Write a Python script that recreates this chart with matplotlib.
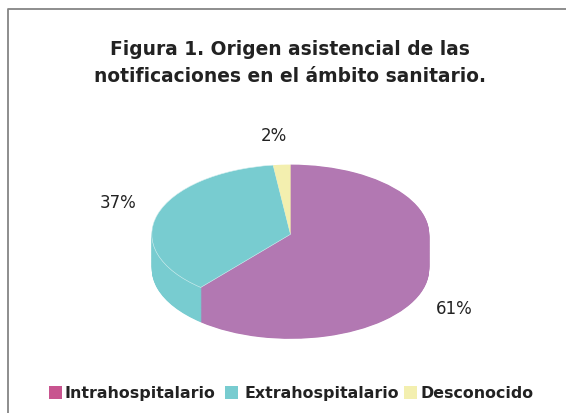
import matplotlib.pyplot as plt
from matplotlib.patches import Rectangle

title = "Figura 1. Origen asistencial de las\nnotificaciones en el ámbito sanitario."
labels = ["Intrahospitalario", "Extrahospitalario", "Desconocido"]
values = [61.2, 36.8, 2]
pct_labels = ["61%", "37%", "2%"]
slice_colors = ["#B278B2", "#78CCD0", "#F3EFAF"]
legend_colors = ["#C8548F", "#78CCD0", "#F3EFAF"]

W, H = 566, 414
fig = plt.figure(figsize=(W / 100, H / 100), dpi=100)


def px(x, y):
    # reference pixels to figure fraction
    return x / W, 1 - y / H


# pie body, axes spans exactly the top ellipse: x 152-429, y 165-305
depth = 0.5
ax = fig.add_axes([151.8 / W, 1 - 305 / H, 277.4 / W, 139.4 / H])
ax.set_facecolor("none")
layers = 60
for i in range(layers, 0, -1):
    ax.pie(values, colors=slice_colors, startangle=90, counterclock=False,
           center=(0, -depth * i / layers), radius=1)
top, _ = ax.pie(values, colors=slice_colors, startangle=90, counterclock=False, radius=1)
# faint seam round the teal slice only
top[1].set_edgecolor("#d8f0f0")
top[1].set_linewidth(0.4)
ax.set_aspect("auto")
ax.set_xlim(-1, 1)
ax.set_ylim(-1, 1)
for p in ax.patches:
    p.set_clip_on(False)

# chart border: only the top and left sides show
fig.add_artist(plt.Line2D([7.5 / W, 7.5 / W, 1], [0, 1 - 9.5 / H, 1 - 9.5 / H],
                          color="#858585", lw=1.3))

fig.text(*px(290, 63), title, ha="center", va="center", fontsize=13.4,
         fontweight="bold", color="#222222", linespacing=1.5)

# percent labels
for s, (x, y) in zip(pct_labels, [(454, 309), (118, 203), (274, 136)]):
    fig.text(*px(x, y), s, ha="center", va="center", fontsize=12, color="#222222")

# legend
for name, col, sx, tx in zip(labels, legend_colors, [49, 225, 404], [64, 244, 421]):
    fig.add_artist(Rectangle(px(sx, 400), 12.5 / W, 13 / H, transform=fig.transFigure,
                             facecolor=col, edgecolor="none"))
    fig.text(*px(tx, 393.5), name, ha="left", va="center", fontsize=11.45,
             fontweight="bold", color="#222222")

fig.savefig("out.png", dpi=100)
